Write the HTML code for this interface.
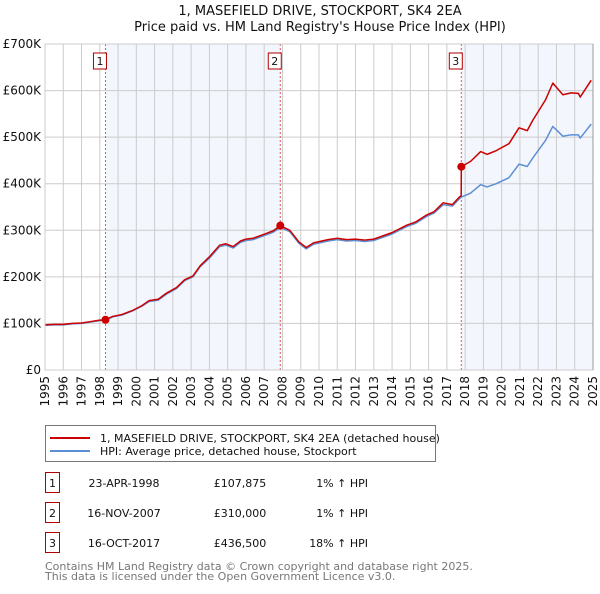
<!DOCTYPE html>
<html><head><meta charset="utf-8"><style>
body{margin:0;background:#fff;font-family:"DejaVu Sans","Liberation Sans",sans-serif;}
svg text{font-family:"DejaVu Sans","Liberation Sans",sans-serif;}
</style></head><body>
<svg id="chart" width="600" height="590" xmlns="http://www.w3.org/2000/svg">
<text x="320" y="15" font-size="13" text-anchor="middle" fill="#111">1, MASEFIELD DRIVE, STOCKPORT, SK4 2EA</text>
<text x="320" y="31" font-size="13" text-anchor="middle" fill="#111">Price paid vs. HM Land Registry's House Price Index (HPI)</text>
<g id="plot"></g>
<rect x="45.5" y="425.5" width="390" height="36" fill="#fff" stroke="#777"/>
<line x1="50" y1="438" x2="90" y2="438" stroke="#cc0000" stroke-width="2"/>
<text x="100" y="442" font-size="11" fill="#111">1, MASEFIELD DRIVE, STOCKPORT, SK4 2EA (detached house)</text>
<line x1="50" y1="451" x2="90" y2="451" stroke="#5b8fd4" stroke-width="2"/>
<text x="100" y="455" font-size="11" fill="#111">HPI: Average price, detached house, Stockport</text>
<g id="table" font-size="11" fill="#111"></g>
<text x="45" y="570" font-size="11" fill="#777">Contains HM Land Registry data © Crown copyright and database right 2025.</text>
<text x="45" y="580" font-size="11" fill="#777">This data is licensed under the Open Government Licence v3.0.</text>
</svg>
<script>
const hpiYears=[1995,1995.5,1996,1996.5,1997,1997.5,1998,1998.3,1998.7,1999.2,1999.8,2000.3,2000.7,2001.2,2001.65,2002.2,2002.65,2003.1,2003.5,2004,2004.56,2004.9,2005.3,2005.7,2006,2006.4,2007.1,2007.5,2007.88,2008.4,2008.9,2009.3,2009.7,2010.5,2011,2011.5,2012,2012.5,2013,2013.5,2014,2014.8,2015.3,2015.9,2016.3,2016.8,2017.3,2017.7,2017.79,2018.3,2018.85,2019.2,2019.7,2020.4,2020.95,2021.4,2021.7,2022.4,2022.8,2023.35,2023.8,2024.2,2024.3,2024.9];
const hpiValues=[96,97,97,99,100,103,106,107,114,118,127,137,147,150,163,175,192,200,222,240,265,268,262,274,278,280,290,296,306,297,272,260,270,277,280,277,278,276,278,285,292,308,315,330,337,355,352,368,371,380,398,393,400,413,442,437,455,493,523,502,505,505,498,528];
const priceYears=[1995,1995.5,1996,1996.5,1997,1997.5,1998,1998.31,1998.7,1999.2,1999.8,2000.3,2000.7,2001.2,2001.65,2002.2,2002.65,2003.1,2003.5,2004,2004.56,2004.9,2005.3,2005.7,2006,2006.4,2007.1,2007.5,2007.88,2008.4,2008.9,2009.3,2009.7,2010.5,2011,2011.5,2012,2012.5,2013,2013.5,2014,2014.8,2015.3,2015.9,2016.3,2016.8,2017.3,2017.7,2017.785,2017.79,2018.3,2018.85,2019.2,2019.7,2020.4,2020.95,2021.4,2021.7,2022.4,2022.8,2023.35,2023.8,2024.2,2024.3,2024.9];
const priceValues=[97,98,98,100,101,104,107,107.9,115,119,128,138,149,152,165,177,194,202,224,243,268,271,265,277,281,283,293,299,310,300,275,263,273,280,283,280,281,279,281,288,295,311,318,333,340,359,355,372,374,436.5,448,469,463,471,486,520,514,536,580,616,591,595,594,586,622];
const sales=[{n:"1",year:1998.31,value:107.875,date:"23-APR-1998",price:"£107,875",pct:"1% ↑ HPI"},{n:"2",year:2007.88,value:310,date:"16-NOV-2007",price:"£310,000",pct:"1% ↑ HPI"},{n:"3",year:2017.79,value:436.5,date:"16-OCT-2017",price:"£436,500",pct:"18% ↑ HPI"}];
const yTicks=[0,100,200,300,400,500,600,700];
const yTickLabels=["£0","£100K","£200K","£300K","£400K","£500K","£600K","£700K"];
const xTicks=[];for(let y=1995;y<=2025;y++)xTicks.push(y);

const X0=45,X1=593,Y0=370,Y1=44;
const sx=v=>X0+(v-1995)/(2025-1995)*(X1-X0);
const sy=v=>Y0-v/700*(Y0-Y1);
const NS="http://www.w3.org/2000/svg";
const plot=document.getElementById('plot');
function mk(tag,attrs,parent){const e=document.createElementNS(NS,tag);for(const k in attrs)e.setAttribute(k,attrs[k]);(parent||plot).appendChild(e);return e;}

let e=mk('rect',{x:X0,y:Y1,width:X1-X0,height:Y0-Y1,fill:'#fff'});


[[sales[0].year,sales[1].year],[sales[2].year,2025]].forEach((s,i)=>{
 const r=mk('rect',{x:sx(s[0]),y:Y1,width:sx(s[1])-sx(s[0]),height:Y0-Y1,fill:'#f3f6fd'});
 
 
});
xTicks.forEach(t=>{
 const l=mk('line',{x1:sx(t),x2:sx(t),y1:Y1,y2:Y0,stroke:'#ccc','stroke-width':1});
 
 
 const tx=mk('text',{x:0,y:0,'font-size':12,fill:'#111','text-anchor':'end',transform:`translate(${sx(t)+4},${Y0+6}) rotate(-90)`});
 tx.textContent=t;
 
 
});
yTicks.forEach((t,i)=>{
 const l=mk('line',{x1:X0,x2:X1,y1:sy(t),y2:sy(t),stroke:'#ccc','stroke-width':1});
 
 
 const tx=mk('text',{x:X0-4,y:sy(t)+4,'font-size':12,fill:'#111','text-anchor':'end'});
 tx.textContent=yTickLabels[i];
 
 
});
sales.forEach(s=>{
 const l=mk('line',{x1:sx(s.year),x2:sx(s.year),y1:Y1,y2:Y0,stroke:'#e05555','stroke-width':1,'stroke-dasharray':'2,2'});
 
 
 const b=mk('rect',{x:sx(s.year)-12,y:53,width:13,height:16,fill:'#fff',stroke:'#b00000'});
 
 
 const t=mk('text',{x:sx(s.year)-5.5,y:65,'font-size':11,'text-anchor':'middle',fill:'#111'});
 t.textContent=s.n;
 
 
});
const hp=mk('polyline',{points:hpiYears.map((y,i)=>sx(y)+','+sy(hpiValues[i])).join(' '),fill:'none',stroke:'#5b8fd4','stroke-width':1.5,'stroke-linejoin':'round'});


const pp=mk('polyline',{points:priceYears.map((y,i)=>sx(y)+','+sy(priceValues[i])).join(' '),fill:'none',stroke:'#cc0000','stroke-width':1.5,'stroke-linejoin':'round'});


sales.forEach(s=>{
 const c=mk('circle',{cx:sx(s.year),cy:sy(s.value),r:4,fill:'#cc0000'});
 
 
});
const ax=mk('rect',{x:X0,y:Y1,width:X1-X0,height:Y0-Y1,fill:'none',stroke:'#ccc'});


mk('line',{x1:X1,x2:X1,y1:Y1,y2:Y0,stroke:'#999'});

const table=document.getElementById('table');
sales.forEach((s,i)=>{
 const y=483+i*30;
 const b=mk('rect',{x:45.5,y:y-10.5,width:14,height:20,fill:'#fff',stroke:'#b00000'},table);
 
 
 const t0=mk('text',{x:52.5,y:y+4,'text-anchor':'middle'},table);t0.textContent=s.n;
 
 
 const t1=mk('text',{x:124,y:y+4,'text-anchor':'middle'},table);t1.textContent=s.date;
 
 
 const t2=mk('text',{x:240,y:y+4,'text-anchor':'middle'},table);t2.textContent=s.price;
 
 
 const t3=mk('text',{x:368,y:y+4,'text-anchor':'end'},table);t3.textContent=s.pct;
 
 
});
</script>
</body></html>
